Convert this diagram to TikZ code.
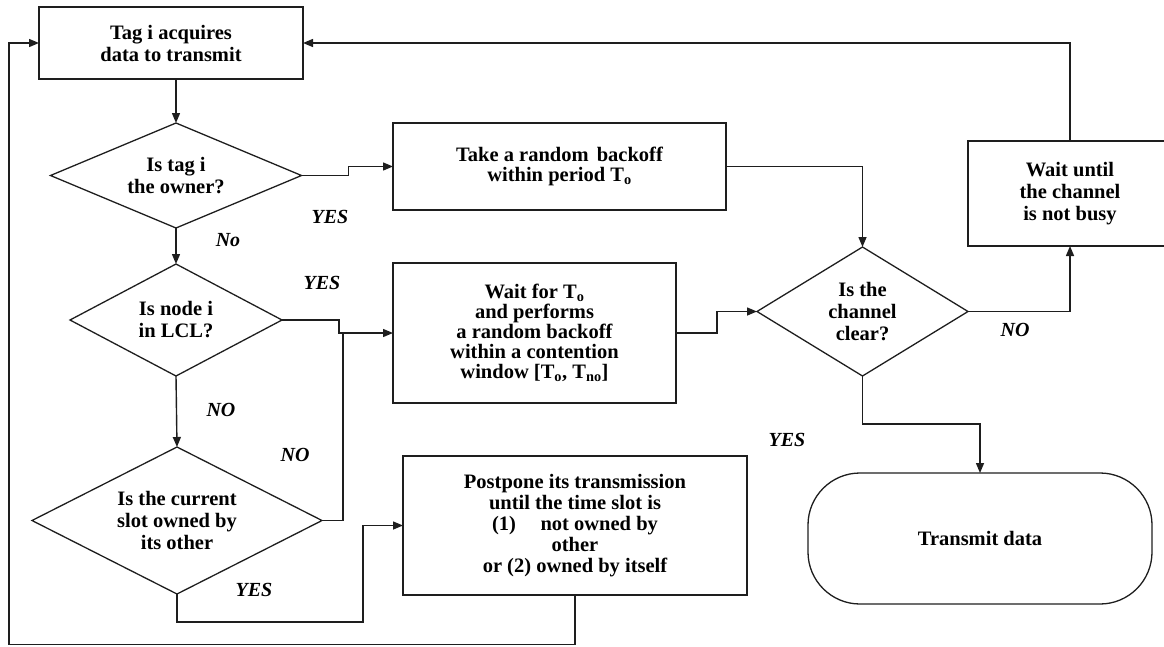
\documentclass[tikz,border=0pt]{standalone}
\usepackage{fontspec}
\setmainfont{Liberation Serif}
\usetikzlibrary{arrows.meta,shapes.geometric,calc}
\definecolor{linec}{RGB}{30,30,30}
\begin{document}
\begin{tikzpicture}[x=1pt,y=-1pt,
  every node/.style={font=\fontsize{20.5}{22}\selectfont\bfseries, align=center, inner sep=0pt, outer sep=0pt},
  box/.style={draw=linec, line width=1.5pt, rectangle},
  dia/.style={draw=linec, line width=1.3pt, diamond},
  lbl/.style={font=\fontsize{20}{22}\selectfont\bfseries\itshape},
  arr/.style={draw=linec, line width=1.4pt, -{Triangle[length=10pt,width=8pt]}},
  ln/.style={draw=linec, line width=1.4pt}]
\useasboundingbox (0,0) rectangle (1164,646);

\node[box, minimum width=264pt, minimum height=72pt] (B1) at (171,43) {Tag i acquires\\data to transmit};
\node[dia, minimum width=251pt, minimum height=105pt, shape aspect=2.4] (D1) at (176,175.5) {Is tag i\\the owner?};
\node[box, minimum width=333pt, minimum height=87pt] (B2) at (559.5,166.5) {Take a random\hspace{0.4em}backoff\\[-2pt]within period T\textsubscript{o}};
\node[dia, minimum width=212pt, minimum height=112pt, shape aspect=1.9] (D2) at (176,320) {Is node i\\in LCL?};
\node[box, minimum width=283pt, minimum height=140pt] (B3) at (534.5,333) {Wait for T\textsubscript{o}\\[-2pt]and performs\\[-2pt]a random backoff\\[-2pt]within a contention\\[-2pt]window [T\textsubscript{o}, T\textsubscript{no}]};
\node[dia, minimum width=290pt, minimum height=147pt, shape aspect=2] (D3) at (177,520.5) {Is the current\\slot owned by\\its other};
\node[box, minimum width=344pt, minimum height=139pt] (B4) at (575,525.5) {Postpone its transmission\\[-1pt]until the time slot is\\[-1pt](1)\hspace{1.2em}not owned by\\[-1pt]other\\[-1pt]or (2) owned by itself};
\node[dia, minimum width=211pt, minimum height=129pt, shape aspect=1.6] (D4) at (862.5,311.5) {Is the\\channel\\clear?};
\node[box, minimum width=204pt, minimum height=105pt] (B5) at (1070,193.5) {Wait until\\the channel\\is not busy};
\node[box, line width=1.3pt, rounded corners=52pt, minimum width=344pt, minimum height=131pt] (T) at (980,538.5) {Transmit data};

\draw[arr] (B1.south -| D1.north) -- (D1.north);
\draw[arr] (D1.east) -- ++(47,0) |- (B2.west);
\draw[arr] (B2.east) -| (D4.north);
\draw[arr] (D1.south) -- (D2.north);
\draw[arr] (D2.east) -- ++(57,0) |- (B3.west);
\draw[ln] (D3.east) -| ($(B3.west)+(-50,0)$);
\draw[arr] (D2.south) -- (D3.north);
\draw[arr] (D3.south) -- ++(0,28) -| ($(B4.west)+(-40,0)$) -- (B4.west);
\draw[arr] (B3.east) -- ++(41,0) |- (D4.west);
\draw[arr] (D4.east) -| (B5.south);
\draw[arr] (B5.north) |- (B1.east);
\draw[arr] (D4.south) -- ++(0,48) -| (T.north);
\draw[arr] (B4.south) -- ++(0,49.5) -| ($(B1.west)+(-30,0)$) -- (B1.west);

\node[lbl] (l1) at (330,217) {YES};
\node[lbl] (l2) at (228,240) {No};
\node[lbl] (l3) at (322,283) {YES};
\node[lbl] (l4) at (221,410) {NO};
\node[lbl] (l5) at (295,455) {NO};
\node[lbl] (l6) at (254,590) {YES};
\node[lbl] (l7) at (787,440) {YES};
\node[lbl] (l8) at (1015,330) {NO};
\end{tikzpicture}
\end{document}
